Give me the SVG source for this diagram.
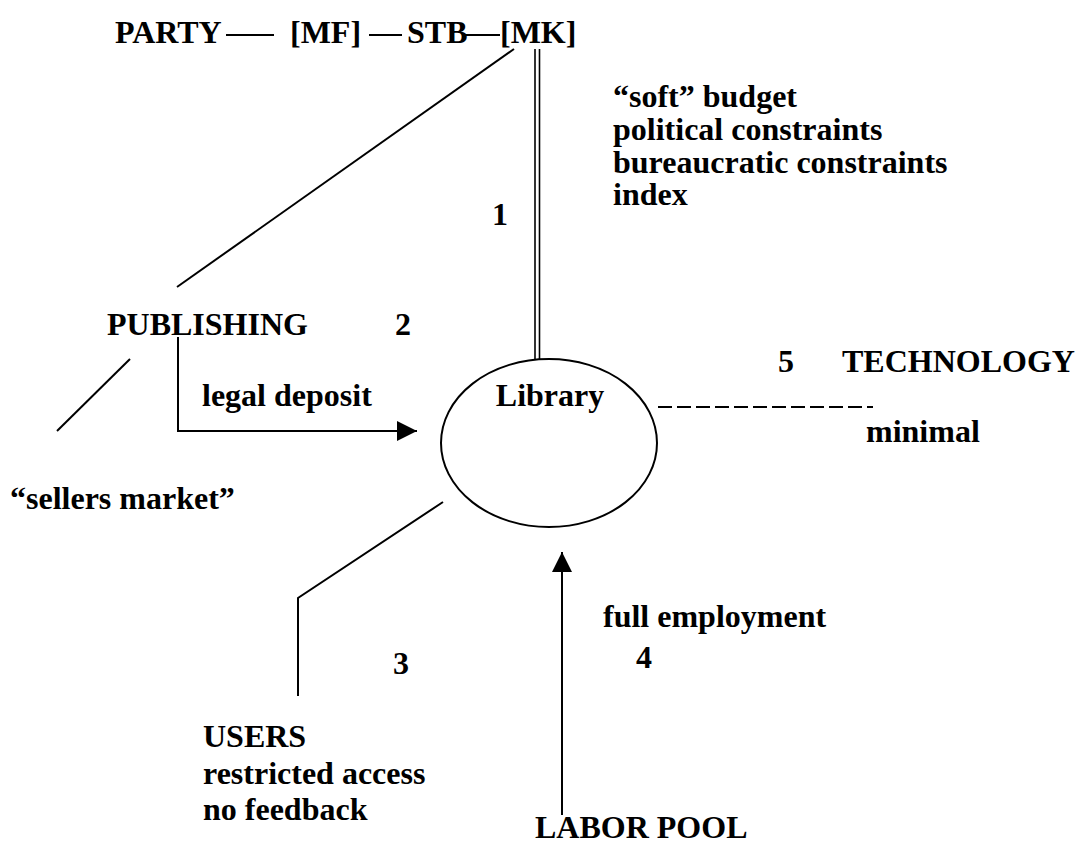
<svg xmlns="http://www.w3.org/2000/svg" width="1078" height="850" viewBox="0 0 1078 850">
<style>
text{font-family:"Liberation Serif","Times New Roman",serif;font-weight:bold;font-size:32px;fill:#000}
.ln{stroke:#000;stroke-width:2;fill:none}
.thin{stroke:#000;stroke-width:1.6;fill:none}
</style>
<defs>
<marker id="ah" markerWidth="20" markerHeight="20" refX="20" refY="10" orient="auto" markerUnits="userSpaceOnUse">
<path d="M0,0 L20,10 L0,20 Z" fill="#000"/>
</marker>
</defs>
<rect width="1078" height="850" fill="#fff"/>
<g id="header">
<text x="115" y="43">PARTY</text>
<text x="290" y="43">[MF]</text>
<text x="407" y="43">STB</text>
<text x="500" y="43">[MK]</text>
</g>
<g id="constraints">
<text x="613" y="107">“soft” budget</text>
<text x="613" y="140">political constraints</text>
<text x="613" y="173">bureaucratic constraints</text>
<text x="613" y="205">index</text>
</g>
<g id="library">
<ellipse cx="549" cy="443" rx="108" ry="84" class="ln"/>
<text x="550" y="406" text-anchor="middle">Library</text>
</g>
<g id="publishing">
<text x="107" y="335">PUBLISHING</text>
</g>
<g id="sellers">
<text x="10" y="509">“sellers market”</text>
</g>
<g id="technology">
<text x="842" y="372">TECHNOLOGY</text>
<text x="866" y="442">minimal</text>
</g>
<g id="users">
<text x="203" y="747"> USERS</text>
<text x="203" y="784">restricted access</text>
<text x="203" y="820">no feedback</text>
</g>
<g id="labor">
<text x="535" y="838">LABOR POOL</text>
</g>
<g id="labels">
<text x="492" y="225">1</text>
<text x="395" y="335">2</text>
<text x="393" y="674">3</text>
<text x="636" y="668">4</text>
<text x="778" y="372">5</text>
<text x="202" y="406">legal deposit</text>
<text x="603" y="627">full employment</text>
</g>
<g id="connectors">
<line x1="226" y1="35" x2="274" y2="35" class="ln"/>
<line x1="369" y1="35" x2="402" y2="35" class="ln"/>
<line x1="465" y1="35" x2="500" y2="35" class="ln"/>
<line x1="535" y1="49" x2="535" y2="360" class="thin"/>
<line x1="539.5" y1="49" x2="539.5" y2="360" class="thin"/>
<line x1="514" y1="49" x2="177" y2="287" class="ln"/>
<line x1="130" y1="359" x2="57" y2="431" class="ln"/>
<polyline points="178,337 178,431 417,431" class="ln" marker-end="url(#ah)"/>
<line x1="658" y1="407" x2="873" y2="407" stroke="#000" stroke-width="2" stroke-dasharray="14 5"/>
<polyline points="443,502 298,598 298,696" class="ln"/>
<line x1="562" y1="815" x2="562" y2="552" class="ln" marker-end="url(#ah)"/>
</g>
</svg>
